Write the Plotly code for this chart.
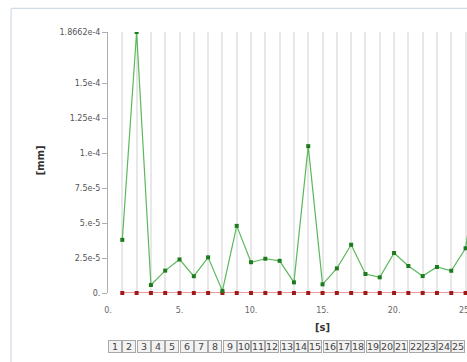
import plotly.graph_objects as go

# Data
time_s = list(range(1, 27))
green_mm = [3.8e-5, 1.8662e-4, 5.7e-6, 1.6e-5, 2.4e-5, 1.2e-5, 2.55e-5, 1.5e-6,
            4.8e-5, 2.2e-5, 2.45e-5, 2.3e-5, 7.6e-6, 1.05e-4, 6.2e-6, 1.76e-5,
            3.45e-5, 1.36e-5, 1.12e-5, 2.86e-5, 1.93e-5, 1.21e-5, 1.86e-5,
            1.59e-5, 3.2e-5, 1.0e-4]
red_mm = [0.0] * 26
ytick_vals = [0, 2.5e-5, 5e-5, 7.5e-5, 1e-4, 1.25e-4, 1.5e-4, 1.8662e-4]
ytick_text = ["0.", "2.5e-5", "5.e-5", "7.5e-5", "1.e-4", "1.25e-4", "1.5e-4", "1.8662e-4"]
xtick_vals = [0, 5, 10, 15, 20]
xtick_text = ["0.", "5.", "10.", "15.", "20."]
step_labels = [str(i) for i in range(1, 26)]

fig = go.Figure()
fig.add_trace(go.Scatter(
    x=time_s, y=red_mm, mode="lines+markers",
    line=dict(color="#d23a3a", width=1.2),
    marker=dict(symbol="square", size=4, color="#a01818"),
    cliponaxis=False, showlegend=False))
fig.add_trace(go.Scatter(
    x=time_s, y=green_mm, mode="lines+markers",
    line=dict(color="#5cb85c", width=1.2),
    marker=dict(symbol="square", size=4, color="#1e7a1e"),
    cliponaxis=True, showlegend=False))

font = "DejaVu Sans"
fig.update_layout(
    width=467, height=362,
    margin=dict(l=108, r=0, t=31.7, b=69),
    paper_bgcolor="white", plot_bgcolor="white",
    font=dict(family=font, size=8, color="#555555"),
    xaxis=dict(range=[0, 25.1], tickvals=xtick_vals, ticktext=xtick_text,
               showgrid=False, zeroline=False, showline=False,
               ticks="outside", ticklen=9, tickcolor="rgba(0,0,0,0)",
               tickfont=dict(size=8, color="#666666")),
    yaxis=dict(range=[0, 1.8662e-4], tickvals=ytick_vals, ticktext=ytick_text,
               showgrid=False, zeroline=False, showline=True, linecolor="#b0b0b0",
               linewidth=1, ticks="outside", ticklen=5, tickcolor="#b0b0b0",
               tickfont=dict(size=8, color="#555555")),
)

# vertical gridlines at every integer step
fig.update_xaxes(minor=dict(dtick=1, tick0=0, showgrid=True, gridcolor="#e8e8e8", gridwidth=1.5))

# last x tick label, partly beyond the right edge as in the reference
fig.add_annotation(text="25.", x=25, y=0, xref="x", yref="paper", yshift=-17,
                   xanchor="center", yanchor="middle", showarrow=False,
                   font=dict(size=8, color="#666666", family=font))

# panel border
fig.add_shape(type="line", xref="paper", yref="paper", x0=-0.27, x1=1.1, y0=1.0907, y1=1.0907,
              line=dict(color="#c8d4e0", width=1))
fig.add_shape(type="line", xref="paper", yref="paper", x0=-0.27, x1=-0.27, y0=-0.3, y1=1.0907,
              line=dict(color="#c8d4e0", width=1))

# axis titles
fig.add_annotation(text="<b>[s]</b>", x=15, y=-0.134, xref="x", yref="paper",
                   xanchor="center", yanchor="middle",
                   showarrow=False, font=dict(size=10, color="#333333", family=font))
fig.add_annotation(text="<b>[mm]</b>", x=-0.189, y=0.509, xref="paper", yref="paper",
                   xanchor="center", yanchor="middle",
                   showarrow=False, textangle=-90, font=dict(size=10, color="#333333", family=font))

# step buttons row
for i, lab in enumerate(step_labels):
    fig.add_annotation(text=lab, x=i + 0.5, y=-0.2067, xref="x", yref="paper",
                       xanchor="center", yanchor="middle",
                       showarrow=False, width=12, height=11, borderpad=0,
                       bordercolor="#a8a8a8", borderwidth=1, bgcolor="#f2f2f2",
                       font=dict(size=9.5, color="#444444", family=font))

fig.write_html("out.html", config={"displayModeBar": False},
               post_script="document.body.style.margin='0';document.body.style.overflow='hidden';")
